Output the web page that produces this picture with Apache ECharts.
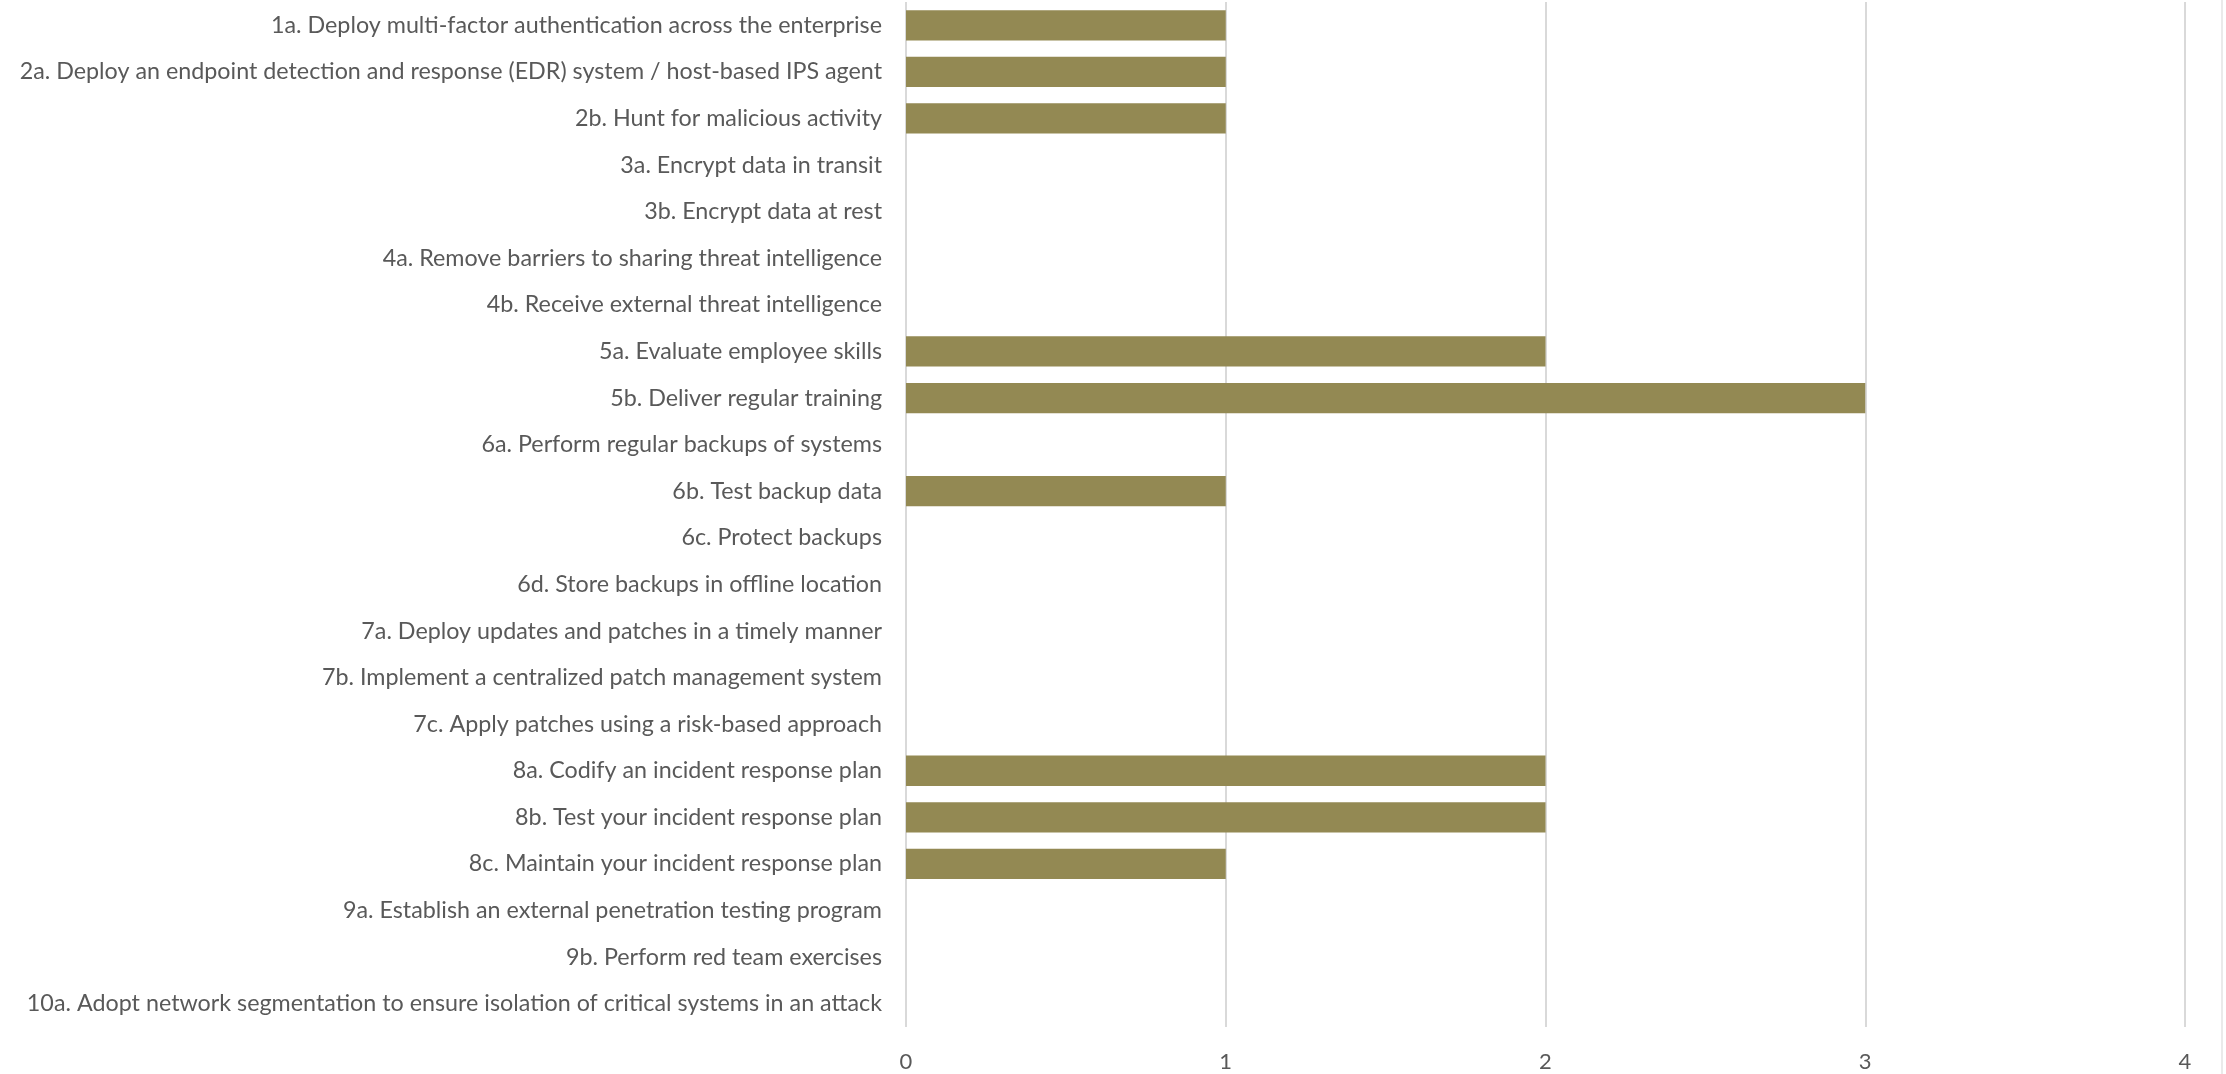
<!DOCTYPE html>
<html>
<head>
<meta charset="utf-8">
<script src="https://cdn.jsdelivr.net/npm/echarts@6/dist/echarts.min.js"></script>
<style>
html,body{margin:0;padding:0;background:#fff;}
#chart{width:2226px;height:1074px;}
</style>
</head>
<body>
<div id="chart"></div>
<script>
const categories = [
  "1a. Deploy multi-factor authentication across the enterprise",
  "2a. Deploy an endpoint detection and response (EDR) system / host-based IPS agent",
  "2b. Hunt for malicious activity",
  "3a. Encrypt data in transit",
  "3b. Encrypt data at rest",
  "4a. Remove barriers to sharing threat intelligence",
  "4b. Receive external threat intelligence",
  "5a. Evaluate employee skills",
  "5b. Deliver regular training",
  "6a. Perform regular backups of systems",
  "6b. Test backup data",
  "6c. Protect backups",
  "6d. Store backups in offline location",
  "7a. Deploy updates and patches in a timely manner",
  "7b. Implement a centralized patch management system",
  "7c. Apply patches using a risk-based approach",
  "8a. Codify an incident response plan",
  "8b. Test your incident response plan",
  "8c. Maintain your incident response plan",
  "9a. Establish an external penetration testing program",
  "9b. Perform red team exercises",
  "10a. Adopt network segmentation to ensure isolation of critical systems in an attack"
];
const values = [1,1,1,0,0,0,0,2,3,0,1,0,0,0,0,0,2,2,1,0,0,0];
const xMin = 0, xMax = 4, xInterval = 1;

const FONT = "Lato, 'Open Sans', sans-serif";
const chart = echarts.init(document.getElementById('chart'), null, {renderer:'canvas'});
chart.setOption({
  animation:false,
  backgroundColor:'#ffffff',
  grid:{left:906, right:41, top:2, bottom:47, containLabel:false},
  xAxis:{
    type:'value', min:xMin, max:xMax, interval:xInterval,
    axisLine:{show:false}, axisTick:{show:false},
    splitLine:{show:true, lineStyle:{color:'#d9d9d9', width:2}},
    axisLabel:{color:'#595959', fontSize:22, fontFamily:FONT, margin:24}
  },
  yAxis:{
    type:'category', data:categories, inverse:true,
    axisLine:{show:false}, axisTick:{show:false},
    axisLabel:{color:'#595959', fontSize:23.3, fontFamily:FONT, margin:24, interval:0}
  },
  series:[{
    type:'bar', data:values, barCategoryGap:'35%',
    itemStyle:{color:'#938953'}
  }],
  graphic:[{
    type:'line', shape:{x1:2222, y1:0, x2:2222, y2:1074},
    style:{stroke:'#e3e3e3', lineWidth:1.5}
  }]
});
</script>
</body>
</html>
